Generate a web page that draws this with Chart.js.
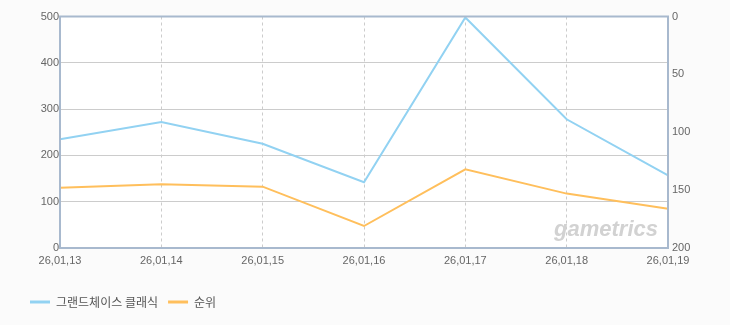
<!DOCTYPE html>
<html>
<head>
<meta charset="utf-8">
<script src="https://cdn.jsdelivr.net/npm/chart.js@4"></script>
<style>
  html, body { margin: 0; padding: 0; background: #fbfbfb; }
  #wrap { width: 730px; height: 325px; }
</style>
</head>
<body>
<div id="wrap"><canvas id="rankChart"></canvas></div>
<script>
// dates on the x axis
const dates = ["26,01,13", "26,01,14", "26,01,15", "26,01,16", "26,01,17", "26,01,18", "26,01,19"];
// values for the game (left axis)
const gameValues = [235, 272, 225, 142, 498, 278, 157];
// rank (right axis, reversed)
const rankValues = [148, 145, 147, 181, 132, 153, 166];

const gridGray = "#cccccc";
const frameColor = "#a8b9ce";
const tickFont = { size: 11, family: "Liberation Sans" };

// background for the plot area, frame and the watermark
const framePlugin = {
    id: "frame",
    beforeDraw(chart) {
        const { ctx, chartArea: a } = chart;
        ctx.save();
        ctx.fillStyle = "#ffffff";
        ctx.fillRect(a.left, a.top, a.right - a.left, a.bottom - a.top);
        ctx.restore();
    },
    beforeDatasetsDraw(chart) {
        const { ctx, chartArea: a } = chart;
        ctx.save();
        ctx.font = "italic bold 22px 'Liberation Sans'";
        ctx.fillStyle = "#d2d2d2";
        ctx.textAlign = "right";
        ctx.textBaseline = "alphabetic";
        ctx.fillText("gametrics", a.right - 10, a.bottom - 12);
        ctx.restore();
    },
    afterDatasetsDraw(chart) {
        const { ctx, chartArea: a } = chart;
        ctx.save();
        ctx.strokeStyle = frameColor;
        ctx.lineWidth = 2;
        ctx.strokeRect(a.left, a.top, a.right - a.left, a.bottom - a.top);
        ctx.restore();
    }
};

new Chart(document.getElementById("rankChart"), {
    type: "line",
    data: {
        labels: dates,
        datasets: [
            {
                label: "그랜드체이스 클래식",
                data: gameValues,
                yAxisID: "y",
                borderColor: "#92d2f2",
                backgroundColor: "#92d2f2",
                borderWidth: 2,
                pointRadius: 0,
                tension: 0
            },
            {
                label: "순위",
                data: rankValues,
                yAxisID: "y1",
                borderColor: "#ffbf5c",
                backgroundColor: "#ffbf5c",
                borderWidth: 2,
                pointRadius: 0,
                tension: 0
            }
        ]
    },
    options: {
        responsive: true,
        maintainAspectRatio: false,
        animation: false,
        layout: { padding: { left: 20, right: 0, top: 16.5, bottom: 7 } },
        plugins: {
            tooltip: { enabled: false },
            legend: {
                position: "bottom",
                align: "start",
                labels: {
                    boxWidth: 20,
                    boxHeight: 3,
                    padding: 10,
                    color: "#555555",
                    font: { size: 12, family: "Noto Sans CJK KR" },
                    generateLabels(chart) {
                        return chart.data.datasets.map((ds, i) => ({
                            text: ds.label,
                            fillStyle: ds.borderColor,
                            strokeStyle: ds.borderColor,
                            lineWidth: 0,
                            fontColor: "#555555",
                            hidden: false,
                            datasetIndex: i
                        }));
                    }
                }
            }
        },
        scales: {
            x: {
                offset: false,
                grid: {
                    color: gridGray,
                    drawTicks: false
                },
                border: { display: false, dash: [3, 3] },
                ticks: {
                    color: "#666666",
                    font: tickFont,
                    padding: 6,
                    maxRotation: 0,
                    autoSkip: false
                },
                afterFit(scale) { scale.height = 38; }
            },
            y: {
                position: "left",
                min: 0,
                max: 500,
                grid: { color: gridGray, drawTicks: false },
                border: { display: false },
                ticks: {
                    stepSize: 100,
                    color: "#666666",
                    font: tickFont,
                    padding: 1
                },
                afterFit(scale) { scale.width = 40; }
            },
            y1: {
                position: "right",
                reverse: true,
                min: 0,
                max: 200,
                grid: { display: false, drawTicks: false },
                border: { display: false },
                ticks: {
                    stepSize: 50,
                    color: "#666666",
                    font: tickFont,
                    padding: 4
                },
                afterFit(scale) { scale.width = 62; }
            }
        }
    },
    plugins: [framePlugin]
});
</script>
</body>
</html>
